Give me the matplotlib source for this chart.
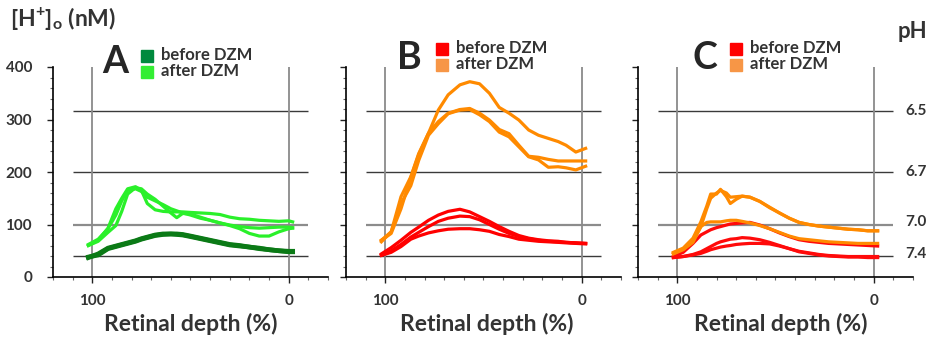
import matplotlib
matplotlib.use("Agg")
import matplotlib.pyplot as plt
from matplotlib.patches import Rectangle

plt.rcParams['font.family'] = ['Lato', 'DejaVu Sans']
plt.rcParams['mathtext.fontset'] = 'custom'
plt.rcParams['mathtext.rm'] = 'Lato'
plt.rcParams['mathtext.bf'] = 'Lato:bold'

# ---- data (retinal depth %, [H+]o in nM) ----
a_x = [102, 97, 92, 88, 85, 82, 78, 75, 72, 68, 64, 60, 57, 54, 50, 45, 40, 35, 30, 25, 20, 15, 10, 5, 0, -2]
a_before_1 = [37, 44, 55, 59, 62, 65, 69, 73, 76, 80, 82, 82, 81, 80, 77, 73, 69, 65, 61, 59, 57, 54, 52, 50, 49, 49]
a_before_2 = [38, 42, 54, 58, 61, 64, 68, 72, 75, 79, 81, 82, 82, 81, 78, 74, 70, 66, 62, 60, 57, 55, 52, 50, 48, 48]
a_after_1 = [60, 70, 93, 130, 150, 168, 172, 165, 140, 128, 125, 124, 124, 124, 123, 122, 121, 119, 114, 111, 110, 108, 107, 106, 107, 105]
a_after_2 = [60, 68, 85, 98, 125, 158, 170, 168, 158, 148, 135, 122, 113, 121, 120, 114, 108, 103, 98, 92, 83, 78, 78, 86, 92, 93]
a_after_3 = [62, 72, 92, 118, 145, 165, 168, 163, 152, 145, 138, 130, 126, 122, 118, 112, 108, 103, 99, 96, 94, 93, 94, 95, 95, 94]

b_x = [102, 97, 92, 87, 83, 78, 73, 68, 62, 57, 52, 47, 42, 37, 32, 27, 22, 17, 12, 8, 3, -2]
b_before_1 = [44, 56, 70, 85, 95, 108, 118, 125, 129, 124, 115, 106, 96, 87, 79, 74, 71, 69, 68, 66, 65, 64]
b_before_2 = [42, 50, 62, 76, 85, 96, 106, 112, 116, 115, 109, 100, 91, 83, 77, 73, 70, 68, 67, 66, 65, 64]
b_before_3 = [41, 47, 58, 72, 78, 84, 88, 91, 92, 92, 90, 87, 81, 77, 72, 70, 68, 67, 66, 65, 64, 63]
b_after_1 = [70, 86, 153, 191, 235, 274, 318, 347, 366, 372, 368, 350, 323, 312, 299, 280, 270, 264, 258, 251, 238, 245]
b_after_2 = [70, 83, 130, 190, 233, 274, 296, 312, 319, 321, 312, 299, 281, 273, 251, 230, 228, 224, 221, 221, 221, 221]
b_after_3 = [67, 86, 140, 174, 222, 270, 292, 311, 318, 319, 309, 296, 276, 267, 248, 229, 223, 209, 210, 208, 204, 211]

c_x = [102, 97, 92, 88, 85, 83, 80, 78, 75, 73, 70, 67, 63, 58, 53, 48, 43, 38, 33, 28, 23, 18, 13, 8, 3, -2]
c_before_1 = [39, 47, 64, 80, 86, 90, 94, 96, 99, 101, 102, 103, 104, 99, 92, 84, 77, 71, 68, 66, 64, 63, 62, 61, 60, 59]
c_before_2 = [37, 39, 43, 48, 54, 58, 64, 67, 70, 72, 73, 75, 74, 71, 66, 60, 54, 49, 46, 43, 41, 40, 39, 39, 39, 39]
c_before_3 = [37, 39, 42, 45, 49, 52, 55, 57, 59, 60, 62, 63, 64, 64, 63, 59, 54, 48, 45, 42, 40, 39, 38, 38, 37, 37]
c_after_1 = [47, 55, 74, 105, 135, 158, 158, 167, 153, 140, 148, 154, 152, 144, 132, 122, 112, 104, 100, 97, 95, 93, 91, 90, 88, 88]
c_after_2 = [44, 52, 66, 96, 130, 150, 160, 165, 160, 152, 153, 154, 152, 144, 133, 122, 112, 104, 100, 97, 95, 93, 91, 90, 88, 88]
c_after_3 = [45, 53, 70, 96, 104, 105, 105, 105, 107, 108, 108, 106, 103, 98, 92, 85, 78, 73, 71, 69, 67, 66, 65, 64, 64, 64]

h_lines = [316, 200, 100, 40]
ph_labels = ['6.5', '6.7', '7.0', '7.4']

TXT = '#333333'
W, H = 928, 346


def fx(px):
    return px / W


def fy(py):
    return 1 - py / H


def setup_axes(ax, show_y):
    ax.set_xlim(120, -20)
    ax.set_ylim(0, 400)
    for s in ['top', 'right']:
        ax.spines[s].set_visible(False)
    ax.spines['left'].set_linewidth(1.2)
    ax.spines['bottom'].set_linewidth(1.2)
    ax.set_xticks([100, 0])
    ax.set_xticklabels(['100', '0'])
    ax.set_xticks(range(-20, 121, 10), minor=True)
    ax.set_yticks([0, 100, 200, 300, 400])
    ax.set_yticks(range(0, 401, 20), minor=True)
    ax.tick_params(axis='both', which='major', length=4, width=1, colors='#222222',
                   labelcolor=TXT, labelsize=11)
    ax.tick_params(axis='both', which='minor', length=2.5, width=0.8, colors='#666666')
    ax.tick_params(axis='x', pad=8)
    ax.tick_params(axis='y', pad=11)
    for lab in ax.get_xticklabels() + ax.get_yticklabels():
        lab.set_fontweight('bold')
    if not show_y:
        ax.set_yticklabels([])
    # reference lines for pH
    for y in h_lines:
        if y == 100:
            ax.hlines(y, 110, -10, color='#8c8c8c', lw=1.6, zorder=1)
        else:
            ax.hlines(y, 110, -10, color='#3a3a3a', lw=1.0, zorder=1)
    ax.vlines([100, 0], 0, 400, color='#8a8a8a', lw=1.3, zorder=1)


def legend_block(x_sq, y_top, c1, c2):
    fig.patches.append(Rectangle((fx(x_sq), fy(y_top + 12)), 12 / W, 12 / H,
                                 transform=fig.transFigure, color=c1))
    fig.patches.append(Rectangle((fx(x_sq), fy(y_top + 28)), 12 / W, 12 / H,
                                 transform=fig.transFigure, color=c2))
    fig.text(fx(x_sq + 20), fy(y_top + 5), 'before DZM', fontsize=12, fontweight='bold',
             color=TXT, va='center', ha='left')
    fig.text(fx(x_sq + 20), fy(y_top + 21), 'after DZM', fontsize=12, fontweight='bold',
             color=TXT, va='center', ha='left')


fig = plt.figure(figsize=(9.28, 3.46), dpi=100)

ax_w = 275 / W
ax_h = 210 / H
ax_b = fy(277)
axA = fig.add_axes([fx(53), ax_b, ax_w, ax_h])
axB = fig.add_axes([fx(346), ax_b, ax_w, ax_h])
axC = fig.add_axes([fx(638), ax_b, ax_w, ax_h])

setup_axes(axA, True)
setup_axes(axB, False)
setup_axes(axC, False)

# panel A
lw = 2.3
for ys in [a_after_1, a_after_2, a_after_3]:
    axA.plot(a_x, ys, color='#2af02a', lw=lw, zorder=3)
for ys in [a_before_1, a_before_2]:
    axA.plot(a_x, ys, color='#0b7a16', lw=3.4, zorder=3)

# panel B
for ys in [b_after_1, b_after_2, b_after_3]:
    axB.plot(b_x, ys, color='#ff8a00', lw=lw, zorder=3)
for ys in [b_before_1, b_before_2, b_before_3]:
    axB.plot(b_x, ys, color='#ff0000', lw=lw, zorder=3)

# panel C
for ys in [c_before_1, c_before_2, c_before_3]:
    axC.plot(c_x, ys, color='#ff0a0a', lw=lw, zorder=3)
for ys in [c_after_1, c_after_2, c_after_3]:
    axC.plot(c_x, ys, color='#ff8a00', lw=lw, zorder=3)

# titles, letters, legends
fig.text(fx(10), fy(19), r'[H$^{\mathbf{+}}$]$_{\mathbf{o}}$ (nM)', fontsize=16.5,
         fontweight='bold', color=TXT, va='center', ha='left')
fig.text(fx(927), fy(32), 'pH', fontsize=16, fontweight='bold', color=TXT,
         va='center', ha='right')
for ph, y in zip(ph_labels, h_lines):
    py = 277 - y * 210 / 400
    if y < 150:
        py -= 2
    fig.text(fx(927), fy(py), ph, fontsize=11, fontweight='bold', color=TXT,
             va='center', ha='right')

for letter, cx, cy in [('A', 115, 62), ('B', 409, 58), ('C', 705, 58)]:
    fig.text(fx(cx), fy(cy), letter, fontsize=27, fontweight='bold', color='#262626',
             va='center', ha='center')

legend_block(141, 50, '#008a3e', '#33ee33')
legend_block(436, 43, '#ff0000', '#f79646')
legend_block(730, 43, '#ff0000', '#f79646')

for cx in [191, 487, 781]:
    fig.text(fx(cx), fy(324), 'Retinal depth (%)', fontsize=16.5, fontweight='bold',
             color=TXT, va='center', ha='center')

fig.savefig('out.png', dpi=100)
